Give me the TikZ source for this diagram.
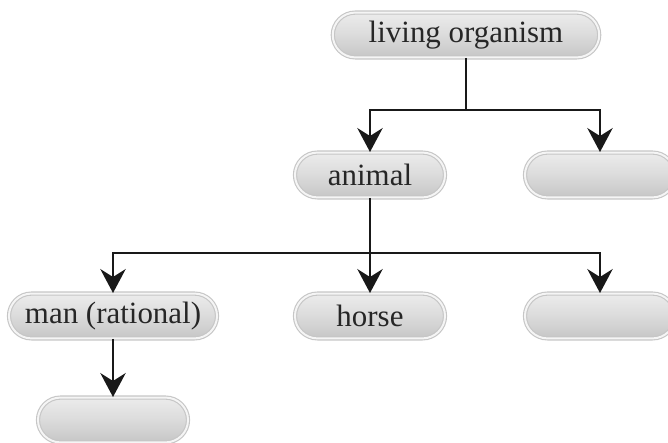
\documentclass[tikz,border=0pt]{standalone}
\usepackage{fontspec}
\setmainfont{Liberation Serif}
\usepackage{tikz}
\usetikzlibrary{arrows.meta}

\tikzset{
  box/.style={draw=gray!45, double=gray!8, double distance=0.7pt, rounded corners=8pt,
    top color=gray!15, bottom color=gray!45, middle color=gray!28,
    minimum width=1.875cm, minimum height=0.56cm, inner sep=0pt,
    font=\fontsize{11}{13}\selectfont, text=black!85},
  link/.style={line width=0.9pt, color=black!90},
  tip/.style={link, -{Stealth[length=8.5pt, width=9pt, inset=2.8pt]}}
}

\begin{document}
\begin{tikzpicture}[x=0.0125cm,y=-0.0125cm]
\useasboundingbox (0,0) rectangle (668,443);
\clip (0,0) rectangle (668,443);
% boxes
\node[box, minimum width=3.33cm] (organism) at (466,35) {living organism};
\node[box] (animal) at (370,175) {animal};
\node[box] (other) at (600,175) {};
\node[box, minimum width=2.6cm] (man) at (113,316) {man (rational)};
\node[box] (horse) at (370,316) {horse};
\node[box] (rest) at (600,316) {};
\node[box] (below) at (113,420) {};
% links
\coordinate (fork a) at (organism.south |- 0,110);
\draw[link] (organism.south) -- (fork a);
\draw[tip] (fork a) -| (animal.north);
\draw[tip] (fork a) -| (other.north);
\coordinate (fork b) at (animal.south |- 0,253);
\draw[tip] (animal.south) -- (horse.north);
\draw[tip] (fork b) -| (man.north);
\draw[tip] (fork b) -| (rest.north);
\draw[tip] (man.south) -- (below.north);
\end{tikzpicture}
\end{document}
